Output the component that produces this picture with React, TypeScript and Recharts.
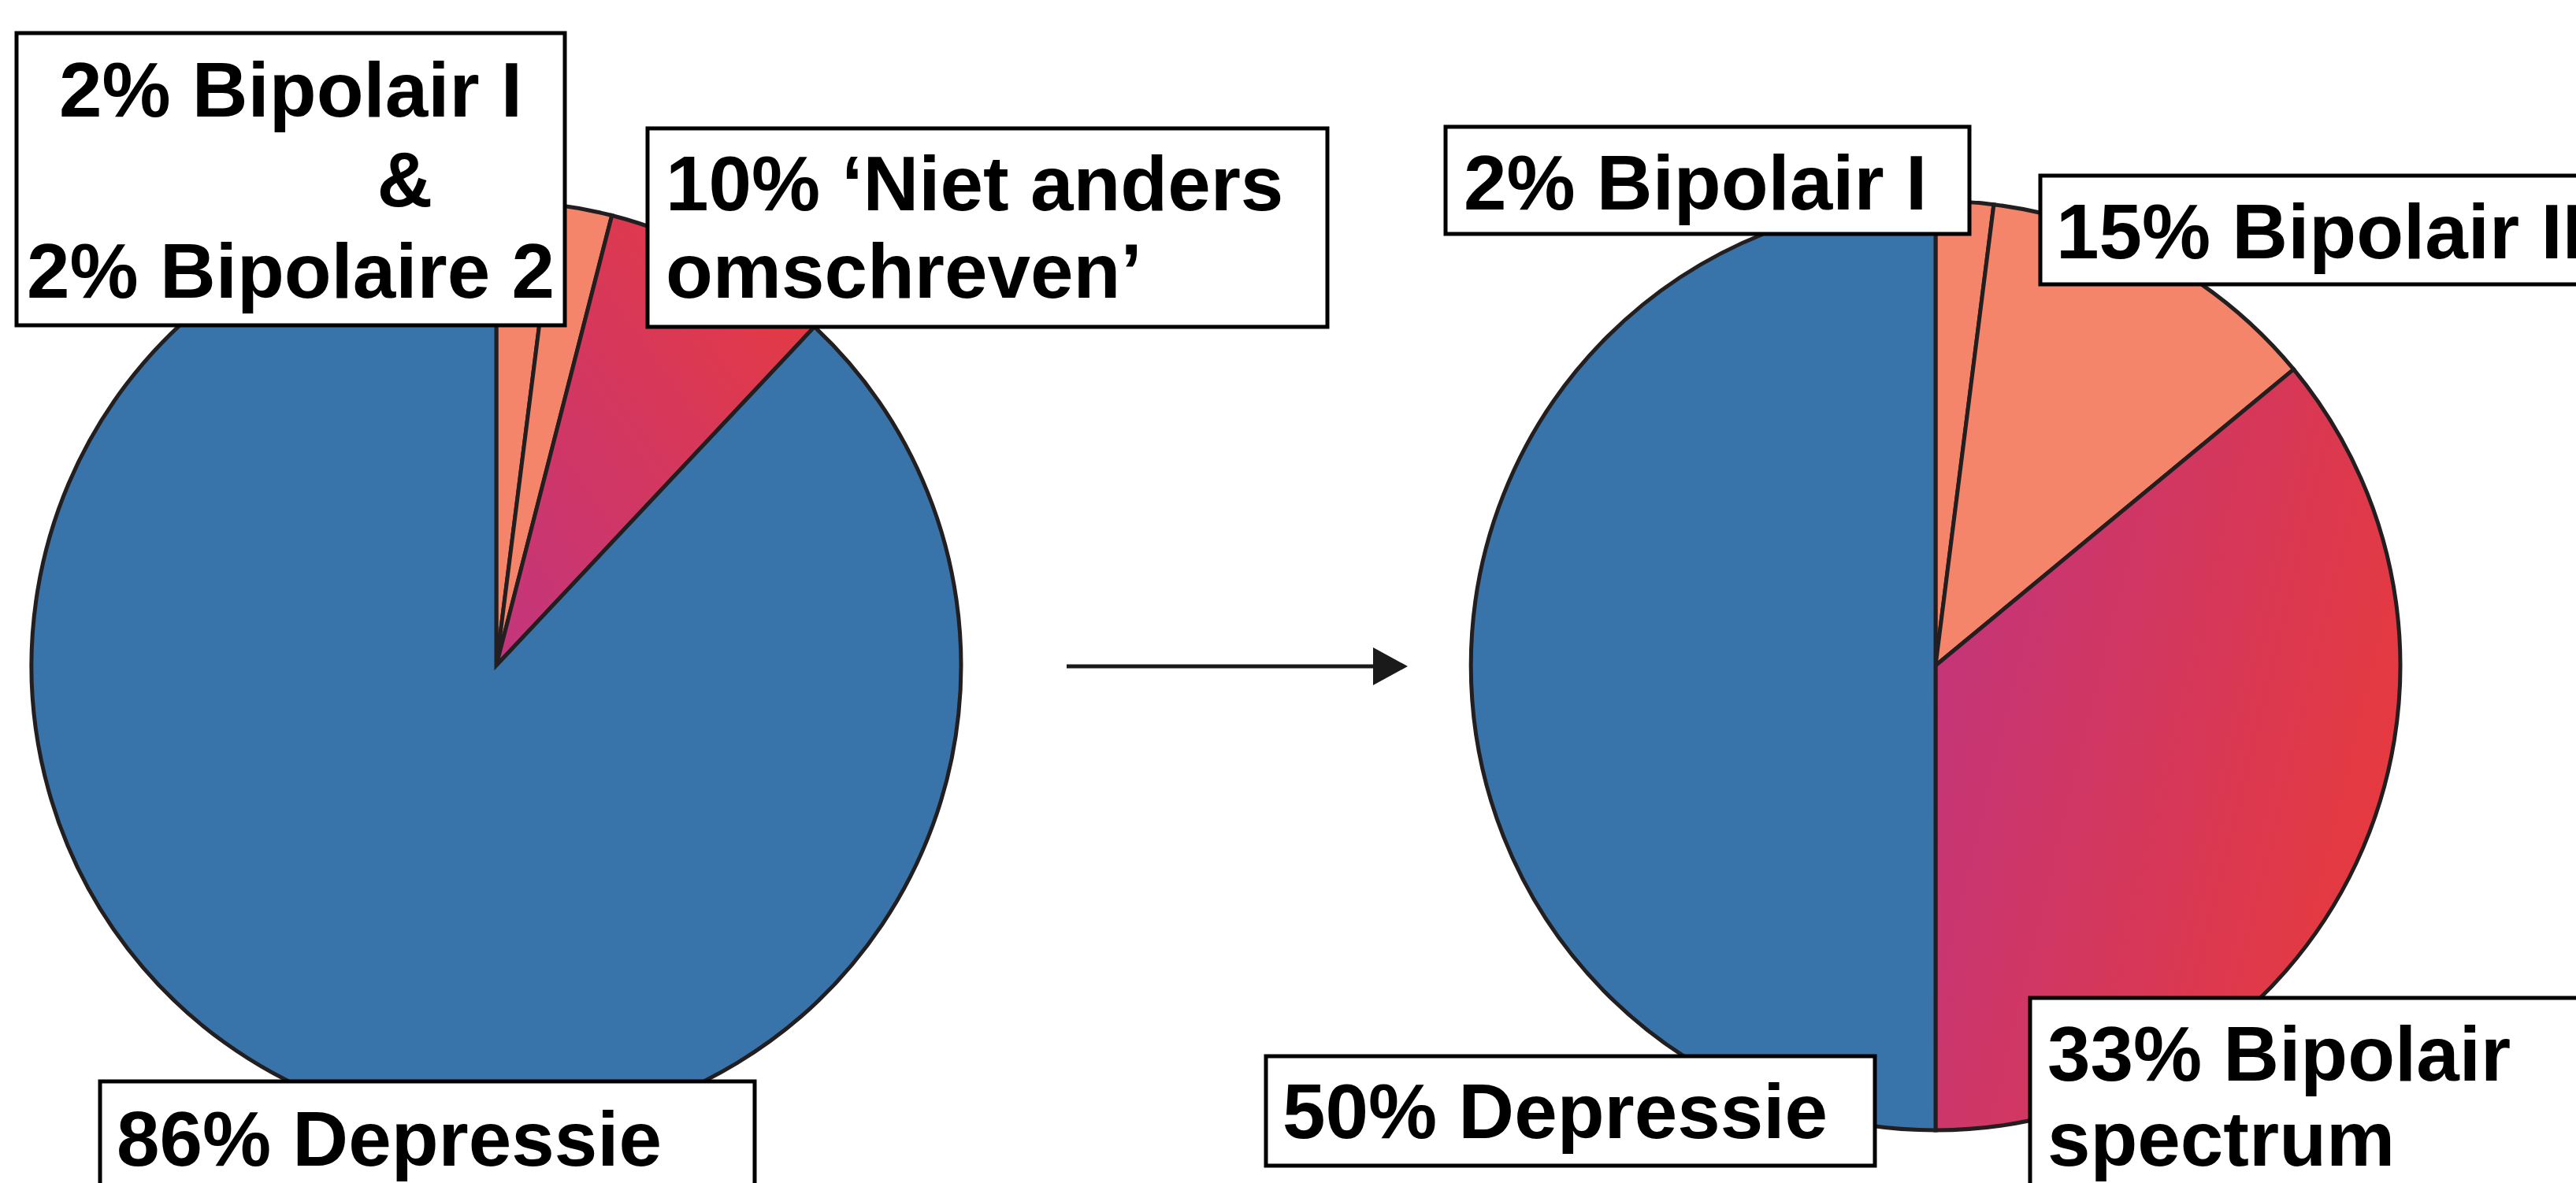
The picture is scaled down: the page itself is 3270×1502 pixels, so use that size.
import { PieChart, Pie, Cell } from 'recharts'

// before / after diagnoses, slices go clockwise from 12 o'clock
const beforeCategories = ['Bipolair I', 'Bipolaire 2', 'Niet anders omschreven', 'Depressie']
const beforeShares = [2, 2, 8, 88]
const afterCategories = ['Bipolair I', 'Bipolair II', 'Bipolair spectrum', 'Depressie']
const afterShares = [2, 12, 36, 50]

const beforeLabels = [['2% Bipolair I', '&', '2% Bipolaire 2'], ['10% ‘Niet anders', 'omschreven’'], ['86% Depressie']]
const afterLabels = [['2% Bipolair I'], ['15% Bipolair II'], ['50% Depressie'], ['33% Bipolair', 'spectrum']]

const beforeData = beforeCategories.map((name, i) => ({ name, value: beforeShares[i] }))
const afterData = afterCategories.map((name, i) => ({ name, value: afterShares[i] }))

const W = 3270
const H = 1502
const R = 590
const STROKE = '#231f20'
const ORANGE = '#f4846a'
const BLUE = '#3873a9'

const beforeFills = [ORANGE, ORANGE, 'url(#redLeft)', BLUE]
const afterFills = [ORANGE, ORANGE, 'url(#redRight)', BLUE]

// label boxes: rect + lines (x, baseline, anchor)
type Box = { x: number; y: number; w: number; h: number; lines: { x: number; y: number; anchor?: 'start' | 'middle' }[] }
const beforeBoxes: Box[] = [
  { x: 21, y: 42, w: 696, h: 371, lines: [{ x: 369, y: 148, anchor: 'middle' }, { x: 514, y: 262, anchor: 'middle' }, { x: 369, y: 378, anchor: 'middle' }] },
  { x: 822, y: 163, w: 863, h: 252, lines: [{ x: 845, y: 267 }, { x: 845, y: 378 }] },
  { x: 127, y: 1373, w: 831, h: 200, lines: [{ x: 148, y: 1480 }] },
]
const afterBoxes: Box[] = [
  { x: 1835, y: 161, w: 665, h: 136, lines: [{ x: 1858, y: 266 }] },
  { x: 2590, y: 223, w: 800, h: 138, lines: [{ x: 2610, y: 328 }] },
  { x: 1607, y: 1341, w: 773, h: 139, lines: [{ x: 1628, y: 1445 }] },
  { x: 2577, y: 1267, w: 800, h: 300, lines: [{ x: 2599, y: 1372 }, { x: 2599, y: 1480 }] },
]

const LabelBox = ({ box, texts }: { box: Box; texts: string[] }) => (
  <g>
    <rect x={box.x} y={box.y} width={box.w} height={box.h} fill="#fff" stroke="#000" strokeWidth={5} />
    {box.lines.map((l, i) => (
      <text key={i} x={l.x} y={l.y} textAnchor={l.anchor ?? 'start'} fontSize={98} fontWeight="bold"
        fontFamily="'Liberation Sans', Arial, sans-serif" fill="#000">
        {texts[i]}
      </text>
    ))}
  </g>
)

export default function App() {
  return (
    <div style={{ position: 'absolute', left: 0, top: 0, width: W, height: H, overflow: 'hidden', background: '#fff' }}>
      <svg width={0} height={0} style={{ position: 'absolute' }}>
        <defs>
          <linearGradient id="redLeft" x1="0" y1="1" x2="1" y2="0">
            <stop offset="0%" stopColor="#c2357e" />
            <stop offset="100%" stopColor="#e83a3c" />
          </linearGradient>
          <linearGradient id="redRight" x1="0" y1="0.3" x2="1" y2="0.7">
            <stop offset="0%" stopColor="#c3357a" />
            <stop offset="100%" stopColor="#e83a3a" />
          </linearGradient>
        </defs>
      </svg>
      <PieChart width={W} height={H} margin={{ top: 0, right: 0, bottom: 0, left: 0 }}>
        <Pie data={beforeData} dataKey="value" nameKey="name" cx={630} cy={845} outerRadius={R}
          startAngle={90} endAngle={-270} stroke={STROKE} strokeWidth={5} isAnimationActive={false}>
          {beforeData.map((d, i) => <Cell key={d.name} fill={beforeFills[i]} stroke={STROKE} strokeWidth={5} />)}
        </Pie>
        <Pie data={afterData} dataKey="value" nameKey="name" cx={2457} cy={845} outerRadius={R}
          startAngle={90} endAngle={-270} stroke={STROKE} strokeWidth={5} isAnimationActive={false}>
          {afterData.map((d, i) => <Cell key={d.name} fill={afterFills[i]} stroke={STROKE} strokeWidth={5} />)}
        </Pie>
      </PieChart>
      <svg width={W} height={H} style={{ position: 'absolute', left: 0, top: 0 }}>
        <line x1={1354} y1={846} x2={1746} y2={846} stroke="#1a1a1a" strokeWidth={5} />
        <polygon points="1743,822 1787,846 1743,870" fill="#1a1a1a" />
        {beforeBoxes.map((b, i) => <LabelBox key={'b' + i} box={b} texts={beforeLabels[i]} />)}
        {afterBoxes.map((b, i) => <LabelBox key={'a' + i} box={b} texts={afterLabels[i]} />)}
      </svg>
    </div>
  )
}
